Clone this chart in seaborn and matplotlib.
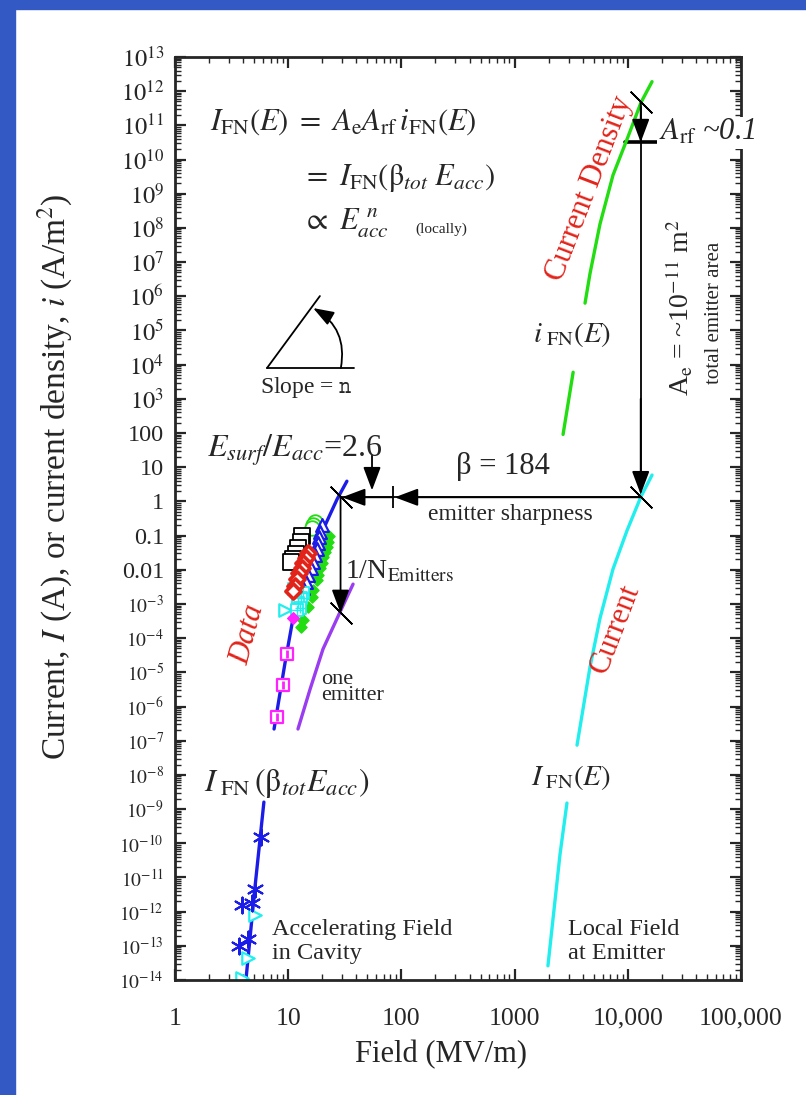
import numpy as np
import matplotlib
matplotlib.use("Agg")
import matplotlib.pyplot as plt
import seaborn as sns
from matplotlib.ticker import FixedLocator, LogLocator, NullFormatter
from matplotlib.patches import Rectangle

# -----------------------------
# DATA
# -----------------------------
# current density i_FN(E) vs local field (green), split around its label
jd_hi_E = [4190, 4640, 5680, 7400, 9840, 13090, 16370]
jd_hi_i = [6.3e5, 4.7e6, 1.3e8, 3.5e9, 3.9e10, 4.7e11, 1.9e12]
jd_lo_E = [2680, 3290]
jd_lo_i = [91, 6000]

# current I_FN(E) vs local field (cyan)
cur_hi_E = [3560, 4630, 5680, 7400, 9840, 13090, 16370]
cur_hi_I = [7.4e-8, 1.4e-5, 3.8e-4, 0.0105, 0.14, 1.4, 5.9]
cur_lo_E = [1970, 2520, 2900]
cur_lo_I = [2.6e-14, 4.8e-11, 1.5e-9]

# I_FN(beta_tot E_acc) vs accelerating field (blue)
acc_hi_E = [7.5, 9.4, 11.0, 13.5, 19.1, 27, 33]
acc_hi_I = [2.2e-7, 2e-5, 3.6e-4, 4.4e-3, 0.095, 1.15, 3.9]
acc_lo_E = [4.24, 5.1, 6.1]
acc_lo_I = [1.07e-14, 5.6e-12, 1.6e-9]

# one emitter (purple)
one_E = [12.2, 15.6, 20.3, 28.7, 37.4]
one_I = [2.2e-7, 3.2e-6, 4.8e-5, 5.8e-4, 3.8e-3]

# measured cavity data
sq_E = [13.3, 13.0, 12.1, 11.7, 11.0, 10.5]
sq_I = [0.095, 0.066, 0.043, 0.029, 0.020, 0.017]
dia_E = [15.1, 14.4, 13.6, 13.2, 12.5, 12.0, 11.5, 11.1]
dia_I = [0.031, 0.022, 0.0155, 0.0112, 0.0079, 0.0053, 0.0033, 0.0024]
circ_E = [17.2, 16.5, 16.1]
circ_I = [0.25, 0.21, 0.166]
tri_E = [19.8, 19.1, 18.8, 18.5, 17.9, 17.3, 16.5, 15.8, 15.1, 14.4, 13.6]
tri_I = [0.20, 0.128, 0.09, 0.06, 0.040, 0.027, 0.017, 0.011, 0.0070, 0.0045, 0.0029]
gd_E = [23.1, 22.6, 21.9, 21.1, 20.4, 19.8, 19.1, 18.5, 17.9, 16.5, 16.1, 15.1, 13.6, 13.1]
gd_I = [0.095, 0.066, 0.047, 0.033, 0.024, 0.0155, 0.0112, 0.0071, 0.0050, 0.0025,
        0.0016, 8.3e-4, 3.4e-4, 2.1e-4]
grid_E = [13.6, 13.1, 12.3, 12.7, 11.9, 11.3]
grid_I = [2.1e-3, 1.5e-3, 1.05e-3, 7.5e-4, 6.6e-4, 2.8e-3]
rtri_E = [9.4, 5.1, 4.44, 3.88]
rtri_I = [6.6e-4, 7.9e-13, 4.4e-14, 1.15e-14]
mdot_E = [11.1]
mdot_I = [3.8e-4]
msq_E = [9.7, 9.06, 8.0]
msq_I = [3.5e-5, 4.3e-6, 5.0e-7]
ast_E = [5.75, 5.09, 4.79, 3.91, 4.42, 3.67]
ast_I = [1.5e-10, 4.6e-12, 1.8e-12, 1.55e-12, 1.6e-13, 9.8e-14]

# key construction values
E_acc0 = 29        # accelerating field at the reference point
E_surf0 = 84       # surface field (2.6 x)
E_loc0 = 13000     # local field (x184)
I_ref = 1.32       # current level of the horizontal construction
I_one = 5.4e-4     # one-emitter current
i_ref = 4.7e11     # current density at E_loc0
i_arf = 3.2e10     # after A_rf

x_ticks = [1, 10, 100, 1000, 10000, 100000]
x_labels = ["1", "10", "100", "1000", "10,000", "100,000"]
y_exps = list(range(-14, 14))
y_special = {2: "100", 1: "10", 0: "1", -1: "0.1", -2: "0.01"}

BLUE = "#1c1ce8"
GREEN = "#22dd11"
CYAN = "#22eeee"
PURPLE = "#9a3cf0"
RED = "#e2231a"
MAG = "#ff22ff"

# -----------------------------
# STYLE
# -----------------------------
sns.set_style("ticks")
plt.rcParams["font.family"] = ["Liberation Serif", "DejaVu Serif"]
plt.rcParams["mathtext.fontset"] = "stix"

fig = plt.figure(figsize=(8.06, 10.95), dpi=100)
fig.patches.append(Rectangle((0, 0), 15 / 806, 1, transform=fig.transFigure,
                             color="#3359c4", zorder=0))
fig.patches.append(Rectangle((0, 1 - 9 / 1095), 1, 9 / 1095, transform=fig.transFigure,
                             color="#3359c4", zorder=0))
ax = fig.add_axes([175 / 806, 1 - 980 / 1095, 566 / 806, 923 / 1095])
ax.set_xscale("log")
ax.set_yscale("log")
ax.set_xlim(1, 1e5)
ax.set_ylim(1e-14, 1e13)

# -----------------------------
# CURVES
# -----------------------------
for xs, ys, c in [(jd_hi_E, jd_hi_i, GREEN), (jd_lo_E, jd_lo_i, GREEN),
                  (cur_hi_E, cur_hi_I, CYAN), (cur_lo_E, cur_lo_I, CYAN),
                  (acc_hi_E, acc_hi_I, BLUE), (acc_lo_E, acc_lo_I, BLUE),
                  (one_E, one_I, PURPLE)]:
    sns.lineplot(x=xs, y=ys, ax=ax, color=c, lw=2.4, sort=False, estimator=None,
                 zorder=3)

# -----------------------------
# DATA POINTS
# -----------------------------
def pts(xs, ys, marker, face, edge, s, lw=1.4, z=4):
    sns.scatterplot(x=xs, y=ys, ax=ax, marker=marker, facecolor=face,
                    edgecolor=edge, s=s, linewidth=lw, zorder=z)

pts(gd_E, gd_I, "D", GREEN, GREEN, 32, 1.0, 4)
pts(circ_E, circ_I, "o", "white", GREEN, 110, 1.3, 4)
pts(tri_E, tri_I, "^", "white", BLUE, 85, 1.6, 5)
pts(grid_E, grid_I, "s", "white", CYAN, 70, 1.3, 5)
pts(grid_E, grid_I, "+", CYAN, CYAN, 45, 1.0, 5)
pts(sq_E, sq_I, "s", "white", "black", 130, 1.3, 6)
pts(dia_E, dia_I, "D", "white", RED, 60, 2.6, 7)
pts(rtri_E, rtri_I, ">", "white", CYAN, 80, 1.6, 5)
pts(mdot_E, mdot_I, "D", MAG, MAG, 35, 1.0, 6)
pts(msq_E, msq_I, "s", "white", MAG, 65, 1.6, 6)
pts(msq_E, msq_I, "|", MAG, MAG, 30, 2.0, 6)
pts(ast_E, ast_I, (6, 2, 0), BLUE, BLUE, 130, 1.5, 6)

# -----------------------------
# CONSTRUCTION LINES / ARROWS
# -----------------------------
head = dict(arrowstyle="-|>,head_length=0.8,head_width=0.3", color="black",
            lw=1.3, mutation_scale=18, shrinkA=0, shrinkB=0)

ax.plot([E_acc0, E_loc0], [I_ref, I_ref], color="black", lw=1.3, zorder=2)
ax.annotate("", xy=(E_acc0 * 1.03, I_ref), xytext=(E_surf0, I_ref), arrowprops=head)
ax.annotate("", xy=(E_surf0 * 1.04, I_ref), xytext=(E_loc0, I_ref), arrowprops=head)
ax.plot([E_surf0], [I_ref], marker="|", ms=16, mew=1.3, color="black")
ax.annotate("", xy=(55, 2.1), xytext=(55, 22), arrowprops=head)
ax.annotate("", xy=(E_acc0, I_one), xytext=(E_acc0, I_ref), arrowprops=head)
ax.plot([E_loc0, E_loc0], [i_ref, I_ref], color="black", lw=1.3, zorder=2)
ax.annotate("", xy=(E_loc0, i_arf), xytext=(E_loc0, i_ref), arrowprops=head)
ax.annotate("", xy=(E_loc0, 1.6), xytext=(E_loc0, 1e3), arrowprops=head)
ax.plot([9440, 18100], [i_arf, i_arf], color="black", lw=2.6, zorder=2)
ax.plot([E_acc0, E_loc0, E_acc0, E_loc0], [I_ref, I_ref, I_one, i_ref],
        ls="none", marker=(2, 2, 45), ms=22, mew=1.2, color="black", zorder=8)

# slope triangle (axes fractions)
ax.plot([0.1625, 0.316], [0.663, 0.663], color="black", lw=1.3, transform=ax.transAxes)
ax.plot([0.1625, 0.256], [0.663, 0.741], color="black", lw=1.3, transform=ax.transAxes)
ax.annotate("", xy=(0.244, 0.728), xytext=(0.293, 0.663), xycoords="axes fraction",
            textcoords="axes fraction",
            arrowprops=dict(arrowstyle="-|>,head_length=0.7,head_width=0.25",
                            color="black", lw=1.3, mutation_scale=18,
                            shrinkA=0, shrinkB=0, connectionstyle="arc3,rad=0.35"))

# -----------------------------
# TEXT
# -----------------------------
T = ax.transAxes
ax.text(0.062, 0.921, r"$I_{\rm FN}(E)\ =\ A_{\rm e}A_{\rm rf}\,i_{\rm FN}(E)$",
        transform=T, fontsize=22, va="baseline")
ax.text(0.224, 0.861, r"$=\ I_{\rm FN}(\mathrm{\beta}_{tot}\ E_{acc})$",
        transform=T, fontsize=22, va="baseline")
ax.text(0.224, 0.8126, r"$\propto\ E_{acc}^{\ n}$", transform=T, fontsize=22,
        va="baseline")
ax.text(0.424, 0.809, "(locally)", transform=T, fontsize=11, va="baseline")
ax.text(0.232, 0.642, r"Slope = $\mathtt{n}$", transform=T, fontsize=17,
        ha="center", va="center")
ax.text(0.0565, 0.574, r"$E_{surf}/E_{acc}$=2.6", transform=T, fontsize=23, va="center")
ax.text(0.580, 0.556, "β = 184", transform=T, fontsize=22, ha="center", va="center")
ax.text(0.592, 0.504, "emitter sharpness", transform=T, fontsize=17, ha="center",
        va="center")
ax.text(0.300, 0.442, r"1/N$_{\rm Emitters}$", transform=T, fontsize=20, va="center")
ax.text(0.258, 0.317, "one\nemitter", transform=T, fontsize=16, va="center",
        linespacing=0.8)
ax.text(0.129, 0.374, "Data", transform=T, fontsize=22, color=RED, style="italic",
        rotation=75, ha="center", va="center", rotation_mode="anchor")
ax.text(0.733, 0.857, "Current Density", transform=T, fontsize=22, color=RED,
        rotation=69, ha="center", va="center", rotation_mode="anchor")
ax.text(0.778, 0.380, "Current", transform=T, fontsize=22, color=RED,
        rotation=69, ha="center", va="center", rotation_mode="anchor")
ax.text(0.701, 0.699, r"$i_{\ \rm FN}(E)$", transform=T, fontsize=21, ha="center",
        va="center")
ax.text(0.700, 0.219, r"$I_{\ \rm FN}(E)$", transform=T, fontsize=21, ha="center",
        va="center")
ax.text(0.198, 0.213, r"$I_{\ \rm FN}\,(\mathrm{\beta}_{tot}E_{acc})$", transform=T,
        fontsize=23, ha="center", va="center")
# white box so the label breaks the right frame, as in the original
ax.text(0.855, 0.918, r"$A_{\rm rf}$ ~0.1", transform=T, fontsize=22, va="center",
        style="italic", zorder=10, clip_on=False,
        bbox=dict(facecolor="white", edgecolor="none", pad=1.0))
ax.text(0.892, 0.729, r"A$_{\rm e}$ = ~10$^{-11}$ m$^{2}$", transform=T, fontsize=20,
        rotation=90, ha="center", va="center")
ax.text(0.954, 0.723, "total emitter area", transform=T, fontsize=15,
        rotation=90, ha="center", va="center")
ax.text(0.171, 0.042, "Accelerating Field\nin Cavity", transform=T, fontsize=17.5,
        va="center", linespacing=1.2)
ax.text(0.694, 0.042, "Local Field\nat Emitter", transform=T, fontsize=17.5,
        va="center", linespacing=1.2)

# -----------------------------
# AXES
# -----------------------------
ax.xaxis.set_major_locator(FixedLocator(x_ticks))
ax.set_xticklabels(x_labels)
ax.xaxis.set_minor_locator(LogLocator(base=10, subs=np.arange(2, 10), numticks=100))
ax.xaxis.set_minor_formatter(NullFormatter())

y_ticks = [10.0 ** k for k in y_exps]
y_labels = [y_special.get(k, r"$10^{%d}$" % k) for k in y_exps]
ax.yaxis.set_major_locator(FixedLocator(y_ticks))
ax.set_yticklabels(y_labels)
ax.yaxis.set_minor_locator(LogLocator(base=10, subs=np.arange(2, 10), numticks=100))
ax.yaxis.set_minor_formatter(NullFormatter())
for lab, k in zip(ax.get_yticklabels(), y_exps):
    lab.set_fontsize(14 if k <= -3 else 17.5)

ax.tick_params(which="both", direction="in", top=True, right=True)
ax.tick_params(which="major", length=8, width=1.6, pad=8)
ax.tick_params(which="minor", length=4, width=1.0)
ax.tick_params(axis="x", which="major", labelsize=18.5, pad=20)
for sp in ax.spines.values():
    sp.set_linewidth(2.0)
    sp.set_zorder(5)

ax.set_xlabel("Field (MV/m)", fontsize=22)
ax.xaxis.set_label_coords(0.47, -0.081)
ax.xaxis.label.set_va("center")
ax.set_ylabel(r"Current, $I$ (A), or current density, $i$ (A/m$^2$)", fontsize=24)
ax.yaxis.set_label_coords(-0.212, 0.545)
ax.yaxis.label.set_va("center")

fig.savefig("out.png", dpi=100)
